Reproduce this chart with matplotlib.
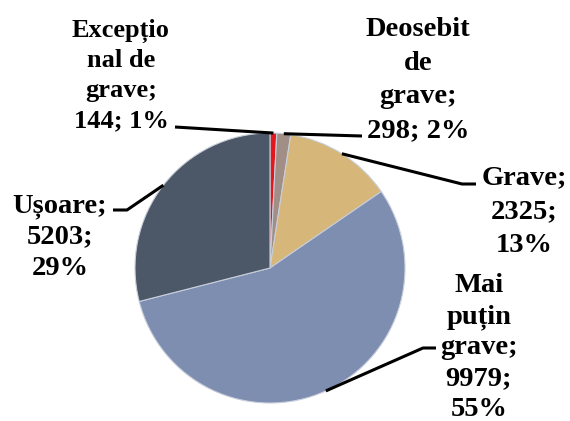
import numpy as np
import matplotlib
matplotlib.use("Agg")
from matplotlib import pyplot as plt

# data
labels = [["Excepțio", "nal de", "grave;", "144; 1%"],
          ["Deosebit", "de", "grave;", "298; 2%"],
          ["Grave;", "2325;", "13%"],
          ["Mai", "puțin", "grave;", "9979;", "55%"],
          ["Ușoare;", "5203;", "29%"]]
values = [144, 298, 2325, 9979, 5203]
colors = ["#E3181E", "#A18E86", "#D7B679", "#7E8EB1", "#4C5867"]

W, H = 570, 421
cx, cy, r = 270, H - 268, 135

fig = plt.figure(figsize=(W / 100, H / 100), dpi=100)
ax = fig.add_axes([0, 0, 1, 1])

wedges, _ = ax.pie(values, colors=colors, startangle=90, counterclock=False,
                   center=(cx, cy), radius=r, frame=True,
                   wedgeprops=dict(edgecolor="#C8CEDA", linewidth=0.8))
ax.set_xlim(0, W)
ax.set_ylim(0, H)
ax.set_aspect("equal")
ax.axis("off")

# label layout (image coords): center x, first baseline, line step, font size
text_pos = [(121, 37, 30, 19),
            (418, 36, 33.7, 20.5),
            (524, 184, 34, 20.5),
            (479, 292, 31, 20.5),
            (60, 212, 31.5, 20.5)]
leader = [[(175, 127)],
          [(362, 136)],
          [(462, 184), (476, 184)],
          [(423, 348), (436, 348)],
          [(127, 210), (113, 210)]]

for w, lines, (tx, ty, step, fs), path in zip(wedges, labels, text_pos, leader):
    ang = np.deg2rad((w.theta1 + w.theta2) / 2)
    px, py = cx + r * np.cos(ang), cy + r * np.sin(ang)
    xs = [px] + [p[0] for p in path]
    ys = [py] + [H - p[1] for p in path]
    ax.plot(xs, ys, color="black", lw=2.2, solid_capstyle="butt")
    for i, line in enumerate(lines):
        ax.text(tx, H - (ty + i * step), line, ha="center", va="baseline",
                fontsize=fs, fontweight="bold", family="Liberation Serif")

fig.savefig("out.png", dpi=100)
